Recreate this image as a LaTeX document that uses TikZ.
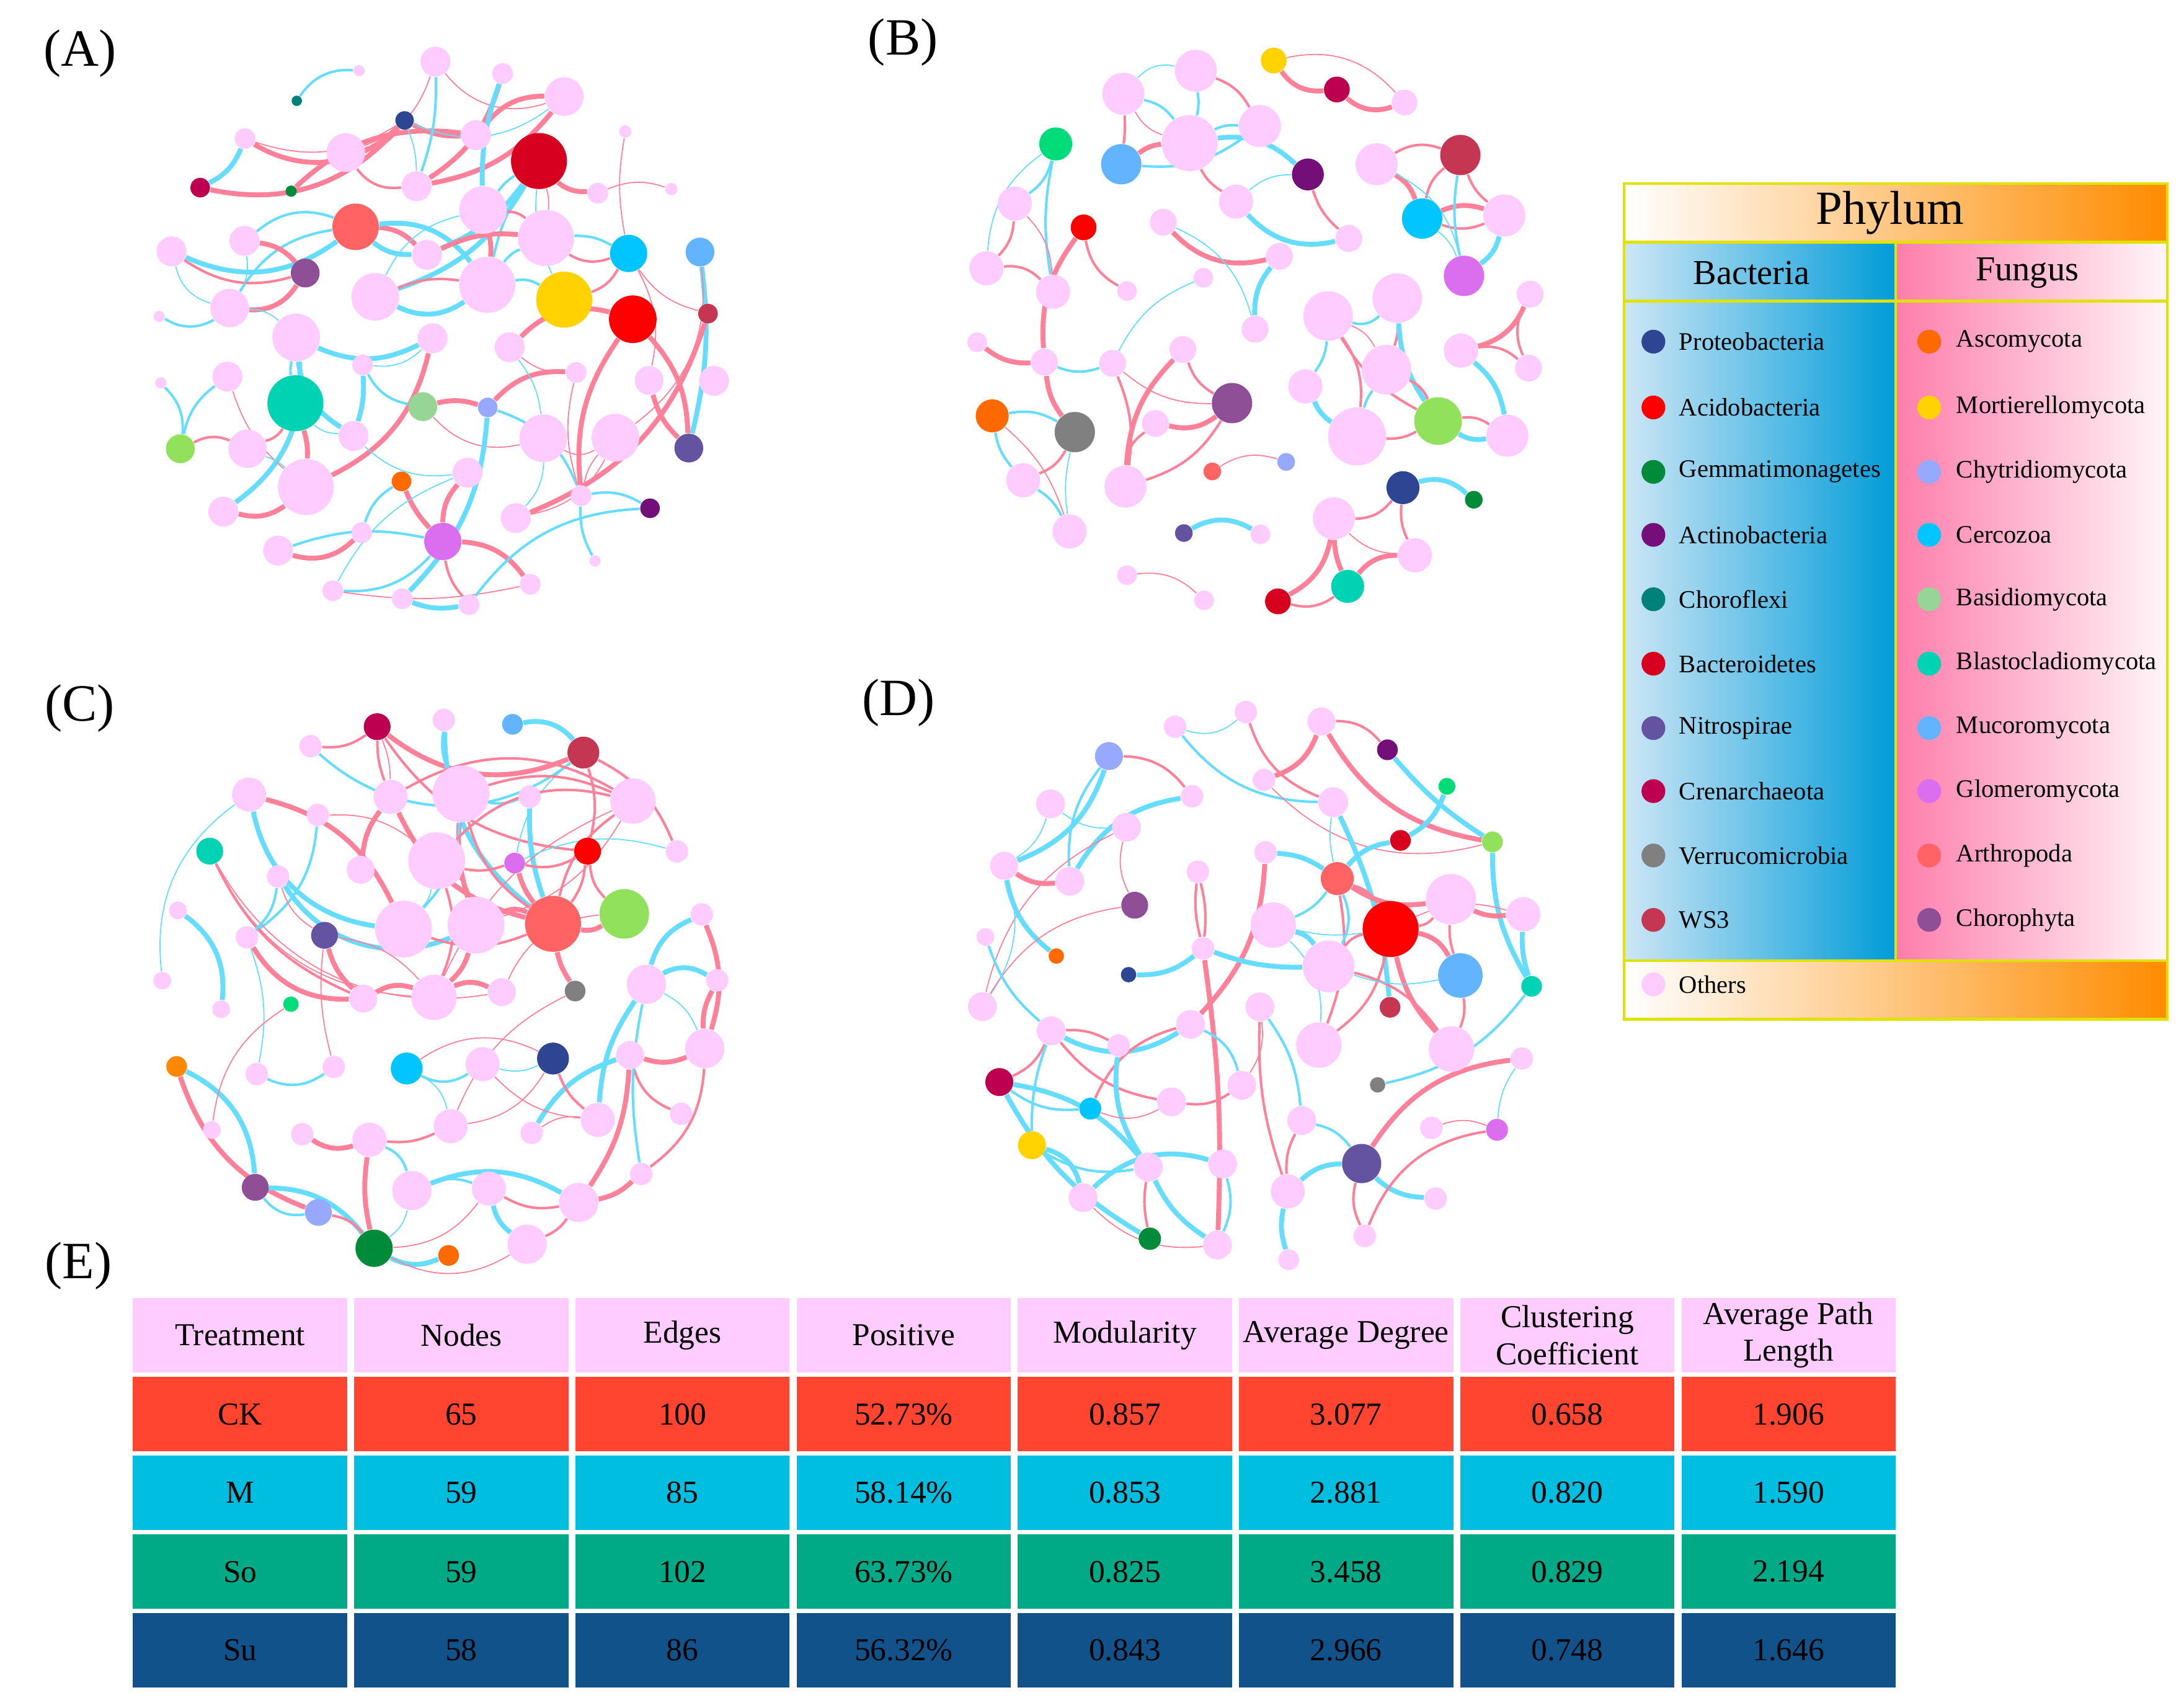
\documentclass[tikz,border=0pt]{standalone}
\usepackage{fontspec}
\setmainfont{Liberation Serif}
\usetikzlibrary{backgrounds}
\definecolor{cO}{HTML}{FFCCFF}
\definecolor{cPro}{HTML}{2E4593}
\definecolor{cAci}{HTML}{FF0000}
\definecolor{cGem}{HTML}{008B3A}
\definecolor{cAct}{HTML}{740F7A}
\definecolor{cChl}{HTML}{00807A}
\definecolor{cBac}{HTML}{D7001E}
\definecolor{cNit}{HTML}{6353A0}
\definecolor{cCre}{HTML}{BE0050}
\definecolor{cVer}{HTML}{808080}
\definecolor{cWS}{HTML}{C43652}
\definecolor{cAsc}{HTML}{FF6A00}
\definecolor{cAscB}{HTML}{FF8800}
\definecolor{cMor}{HTML}{FFD200}
\definecolor{cChy}{HTML}{97A8FF}
\definecolor{cCer}{HTML}{00C5FF}
\definecolor{cBas}{HTML}{97D597}
\definecolor{cBla}{HTML}{00D2B4}
\definecolor{cMuc}{HTML}{63B4FF}
\definecolor{cGlo}{HTML}{DA6EEE}
\definecolor{cArt}{HTML}{FF6363}
\definecolor{cCho}{HTML}{8E4F96}
\definecolor{cLime}{HTML}{92E15C}
\definecolor{cSpr}{HTML}{00DC78}
\definecolor{eP}{HTML}{FF8099}
\definecolor{eB}{HTML}{66DDFF}
\definecolor{legY}{HTML}{E2E200}
\definecolor{orR}{HTML}{FF8C00}
\definecolor{orM}{HTML}{FFC27A}
\definecolor{blL}{HTML}{CDE6F6}
\definecolor{blM}{HTML}{10B6E6}
\definecolor{blR}{HTML}{009CD8}
\definecolor{fuL}{HTML}{FF7DAB}
\definecolor{fuM}{HTML}{FFBCD3}
\definecolor{fuR}{HTML}{FFF6F9}
\definecolor{tH}{HTML}{FFCCFF}
\definecolor{tCK}{HTML}{FF4530}
\definecolor{tM}{HTML}{00BEE0}
\definecolor{tSo}{HTML}{00AA87}
\definecolor{tSu}{HTML}{12528A}
\newcommand\mynode[5]{\node[circle,inner sep=0pt,minimum size=#4pt,fill=#5] (#1) at (#2,#3) {};}
\newcommand\lnk[4]{\draw[#3] (#1) to[bend left=#4] (#2);}
\tikzset{
 P1/.style={draw=eP,line width=0.4pt},
 P2/.style={draw=eP,line width=0.9pt},
 P3/.style={draw=eP,line width=1.75pt},
 B1/.style={draw=eB,line width=0.4pt},
 B2/.style={draw=eB,line width=0.9pt},
 B3/.style={draw=eB,line width=1.75pt},
 lab/.style={inner sep=0pt,font=\fontsize{18.7}{22}\selectfont},
 cell/.style={inner sep=0pt,minimum width=76.5pt,minimum height=26.5pt,align=center,font=\fontsize{11.4}{13.2}\selectfont},
 legtxt/.style={anchor=west,inner sep=0pt,font=\fontsize{9}{11}\selectfont},
 legdot/.style={circle,inner sep=0pt,minimum size=8.5pt},
}
\begin{document}
\begin{tikzpicture}[x=0.5pt,y=-0.5pt]
\useasboundingbox (0,0) rectangle (1560,1216);
% ---------- labels
\node[lab] (labA) at (57,38) {(A)};
\node[lab] (labB) at (645,30) {(B)};
\node[lab] (labC) at (57,506) {(C)};
\node[lab] (labD) at (642,502) {(D)};
\node[lab] (labE) at (56,904) {(E)};
% ---------- panel A
\mynode{a1}{311}{44}{10.7}{cO}
\mynode{a2}{256.5}{50.5}{4}{cO}
\mynode{a3}{212}{72}{3.7}{cChl}
\mynode{a4}{359}{52.5}{7.4}{cO}
\mynode{a5}{403}{69}{13.8}{cO}
\mynode{a6}{289}{86}{6.6}{cPro}
\mynode{a7}{175}{99}{7.4}{cO}
\mynode{a8}{247}{109}{13.8}{cO}
\mynode{a9}{340}{96.5}{10.7}{cO}
\mynode{a10}{385}{115}{20}{cBac}
\mynode{a11}{446.6}{94}{4.4}{cO}
\mynode{a12}{143}{134}{7}{cCre}
\mynode{a13}{208}{136.5}{4}{cGem}
\mynode{a14}{297.5}{133}{10.7}{cO}
\mynode{a15}{427}{138}{7.4}{cO}
\mynode{a16}{479.5}{135}{4.4}{cO}
\mynode{a17}{254}{162}{16.6}{cArt}
\mynode{a18}{345}{150}{17}{cO}
\mynode{a19}{390}{170}{20}{cO}
\mynode{a20}{449}{181}{13.3}{cCer}
\mynode{a21}{500}{180}{10.3}{cMuc}
\mynode{a22}{122.5}{179.5}{10.7}{cO}
\mynode{a23}{174.6}{172}{10.7}{cO}
\mynode{a24}{218}{195}{10.3}{cCho}
\mynode{a25}{305}{182}{10.7}{cO}
\mynode{a26}{268}{212}{17}{cO}
\mynode{a27}{348}{203.5}{20}{cO}
\mynode{a28}{403}{214}{20}{cMor}
\mynode{a29}{452}{228}{17}{cAci}
\mynode{a30}{505.7}{224}{7}{cWS}
\mynode{a31}{113.7}{226}{4}{cO}
\mynode{a32}{164}{220}{13.7}{cO}
\mynode{a33}{211.5}{241}{17}{cO}
\mynode{a34}{309}{241.6}{10.7}{cO}
\mynode{a35}{364}{248}{10.7}{cO}
\mynode{a36}{259}{260.6}{7.4}{cO}
\mynode{a37}{411.5}{266}{7.4}{cO}
\mynode{a38}{463.6}{271.7}{10.3}{cO}
\mynode{a39}{510}{272}{10.7}{cO}
\mynode{a40}{114.8}{273.4}{4}{cO}
\mynode{a41}{162.4}{269}{10.7}{cO}
\mynode{a42}{211}{288}{20}{cBla}
\mynode{a43}{302}{290.4}{10.3}{cBas}
\mynode{a44}{348.4}{291}{7}{cChy}
\mynode{a45}{128.8}{320.5}{10.3}{cLime}
\mynode{a46}{176.8}{320.5}{13.7}{cO}
\mynode{a47}{252.5}{311.4}{10.7}{cO}
\mynode{a48}{388}{313}{17}{cO}
\mynode{a49}{439.6}{312.6}{17}{cO}
\mynode{a50}{492}{320}{10.3}{cNit}
\mynode{a51}{218.5}{347.8}{20}{cO}
\mynode{a52}{286.8}{343.8}{7}{cAsc}
\mynode{a53}{334}{337.6}{10.7}{cO}
\mynode{a54}{159.5}{365.4}{10.7}{cO}
\mynode{a55}{368.4}{370}{10.7}{cO}
\mynode{a56}{415}{354}{7.4}{cO}
\mynode{a57}{464.3}{363}{7}{cAct}
\mynode{a58}{258.4}{380.4}{7.4}{cO}
\mynode{a59}{316.3}{386.7}{13.3}{cGlo}
\mynode{a60}{198.6}{393.2}{10.7}{cO}
\mynode{a61}{425}{400.6}{4}{cO}
\mynode{a62}{237.7}{421.9}{7.4}{cO}
\mynode{a63}{378.7}{417.3}{7.4}{cO}
\mynode{a64}{287.2}{427.6}{7.4}{cO}
\mynode{a65}{335}{431.8}{7.4}{cO}
% ---------- panel B
\mynode{b1}{909.8}{43.2}{9.2}{cMor}
\mynode{b2}{954.9}{63.9}{9.2}{cCre}
\mynode{b3}{1003.2}{73.2}{9.2}{cO}
\mynode{b4}{854.1}{50.5}{15}{cO}
\mynode{b5}{802.4}{67}{15}{cO}
\mynode{b6}{899.9}{90}{15}{cO}
\mynode{b7}{849.7}{102.2}{20}{cO}
\mynode{b8}{800.9}{117.3}{14.4}{cMuc}
\mynode{b9}{754.1}{102.8}{11.8}{cSpr}
\mynode{b10}{934.2}{124.6}{11.4}{cAct}
\mynode{b11}{983.3}{117.3}{15}{cO}
\mynode{b12}{1043.1}{110.7}{14.4}{cWS}
\mynode{b13}{724.9}{145.4}{12.2}{cO}
\mynode{b14}{774}{162.4}{9.2}{cAci}
\mynode{b15}{882.9}{144}{12.2}{cO}
\mynode{b16}{1015.8}{156.1}{14.4}{cCer}
\mynode{b17}{1074.5}{153.9}{15}{cO}
\mynode{b18}{830.9}{158.7}{9.6}{cO}
\mynode{b19}{963.4}{170.3}{9.6}{cO}
\mynode{b20}{704.6}{191.6}{12.2}{cO}
\mynode{b21}{752.2}{208.4}{12.2}{cO}
\mynode{b22}{805}{207.8}{7}{cO}
\mynode{b23}{913.9}{183.1}{9.6}{cO}
\mynode{b24}{859.6}{198.4}{7}{cO}
\mynode{b25}{1045.7}{197}{14.4}{cGlo}
\mynode{b26}{1092.9}{210.1}{9.6}{cO}
\mynode{b27}{948.6}{225.7}{17.7}{cO}
\mynode{b28}{998}{212.9}{17.7}{cO}
\mynode{b29}{896.5}{235.1}{9.6}{cO}
\mynode{b30}{698}{244.4}{7}{cO}
\mynode{b31}{746}{258.6}{9.6}{cO}
\mynode{b32}{794.7}{259.5}{9.6}{cO}
\mynode{b33}{844.9}{249.6}{9.6}{cO}
\mynode{b34}{1043.5}{250.4}{12.2}{cO}
\mynode{b35}{1091.8}{262.9}{9.6}{cO}
\mynode{b36}{990.3}{264}{17.7}{cO}
\mynode{b37}{932.4}{276}{12.2}{cO}
\mynode{b38}{708.7}{297}{11.8}{cAsc}
\mynode{b39}{767.7}{308.6}{14.4}{cVer}
\mynode{b40}{825.3}{302.4}{9.6}{cO}
\mynode{b41}{880}{287.9}{14.4}{cCho}
\mynode{b42}{969.3}{311.7}{20.7}{cO}
\mynode{b43}{1027.2}{300.7}{17}{cLime}
\mynode{b44}{1076.7}{311.2}{15}{cO}
\mynode{b45}{730.8}{343}{12.2}{cO}
\mynode{b46}{803.9}{347.5}{15}{cO}
\mynode{b47}{865.9}{336.7}{6.3}{cArt}
\mynode{b48}{918.7}{329.9}{6.3}{cChy}
\mynode{b49}{1002.1}{348.3}{11.8}{cPro}
\mynode{b50}{1052.7}{356.9}{6.3}{cGem}
\mynode{b51}{952.7}{370.2}{15}{cO}
\mynode{b52}{764}{379.6}{12.2}{cO}
\mynode{b53}{845.6}{380.7}{6.3}{cNit}
\mynode{b54}{900.3}{381.6}{7}{cO}
\mynode{b55}{1010.6}{396.6}{12.2}{cO}
\mynode{b56}{805}{410.8}{7}{cO}
\mynode{b57}{962.6}{418.8}{11.8}{cBla}
\mynode{b58}{860}{428.7}{7}{cO}
\mynode{b59}{912.8}{429.5}{9.2}{cBac}
% ---------- panel C
\begin{scope}[shift={(0,2.5)}]
\mynode{c1}{221.8}{530.4}{8}{cO}
\mynode{c2}{269.4}{516.5}{9.6}{cCre}
\mynode{c3}{317}{511.7}{8}{cO}
\mynode{c4}{366.1}{514.8}{7.4}{cMuc}
\mynode{c5}{416.7}{535}{11.4}{cWS}
\mynode{c6}{177.9}{565}{12.2}{cO}
\mynode{c7}{279}{566.7}{12.2}{cO}
\mynode{c8}{329.2}{564.5}{20.3}{cO}
\mynode{c9}{378.3}{566.5}{8}{cO}
\mynode{c10}{452.1}{569.6}{16.2}{cO}
\mynode{c11}{227}{579.5}{8}{cO}
\mynode{c12}{149.8}{605.4}{9.6}{cBla}
\mynode{c13}{257.6}{618.7}{10}{cO}
\mynode{c14}{198.6}{623.5}{8}{cO}
\mynode{c15}{311.9}{612.2}{20.3}{cO}
\mynode{c16}{367.6}{613.9}{7.4}{cGlo}
\mynode{c17}{419.7}{605.4}{9.6}{cAci}
\mynode{c18}{483.5}{605.6}{8}{cO}
\mynode{c19}{127}{647.7}{6.3}{cO}
\mynode{c20}{176.4}{667}{8}{cO}
\mynode{c21}{231.8}{665.5}{9.6}{cNit}
\mynode{c22}{288.3}{661}{20.3}{cO}
\mynode{c23}{340}{658.2}{20.3}{cO}
\mynode{c24}{395}{657.3}{20}{cArt}
\mynode{c25}{445.9}{650.2}{17.7}{cLime}
\mynode{c26}{501.2}{650.5}{8}{cO}
\mynode{c27}{115.9}{697.9}{6.3}{cO}
\mynode{c28}{158}{718.3}{6.3}{cO}
\mynode{c29}{207.8}{714.7}{5.5}{cSpr}
\mynode{c30}{259.5}{710.7}{10}{cO}
\mynode{c31}{310}{709.8}{16.2}{cO}
\mynode{c32}{358.4}{706.1}{10}{cO}
\mynode{c33}{410.8}{705.3}{7.4}{cVer}
\mynode{c34}{461.7}{700.5}{14}{cO}
\mynode{c35}{512.3}{697.6}{8}{cO}
\mynode{c36}{126.2}{759.2}{7.4}{cAscB}
\mynode{c37}{183.4}{764.6}{8}{cO}
\mynode{c38}{238.4}{759.5}{8}{cO}
\mynode{c39}{290.5}{760.6}{11.4}{cCer}
\mynode{c40}{344.7}{757.5}{12.2}{cO}
\mynode{c41}{395}{753.5}{11.4}{cPro}
\mynode{c42}{503.4}{746.4}{14}{cO}
\mynode{c43}{450}{751}{10}{cO}
\mynode{c44}{151.3}{804.6}{6.3}{cO}
\mynode{c45}{215.9}{807.5}{8}{cO}
\mynode{c46}{263.9}{811.5}{12.2}{cO}
\mynode{c47}{321.9}{801.8}{12.2}{cO}
\mynode{c48}{379.8}{806.6}{8}{cO}
\mynode{c49}{427}{797.3}{12.2}{cO}
\mynode{c50}{486.5}{793}{8}{cO}
\mynode{c51}{182.3}{845.5}{9.6}{cCho}
\mynode{c52}{227.4}{863.4}{9.6}{cChy}
\mynode{c53}{294.2}{847.8}{14}{cO}
\mynode{c54}{349.2}{846.4}{12.2}{cO}
\mynode{c55}{413.4}{856.3}{14}{cO}
\mynode{c56}{458}{835.9}{8}{cO}
\mynode{c57}{267.2}{889}{13.3}{cGem}
\mynode{c58}{320.4}{894.1}{7.4}{cAsc}
\mynode{c59}{376.5}{886.1}{14}{cO}
% ---------- panel D
\mynode{d1}{839.3}{516.5}{8}{cO}
\mynode{d2}{889.9}{506}{8}{cO}
\mynode{d3}{943.8}{512.8}{10}{cO}
\mynode{d4}{991}{533}{7.4}{cAct}
\mynode{d5}{792.1}{537.5}{10}{cChy}
\mynode{d6}{902.8}{554.5}{8}{cO}
\mynode{d7}{1033.5}{559.1}{6}{cSpr}
\mynode{d8}{952.3}{570.4}{10.7}{cO}
\mynode{d9}{851.5}{566.2}{8}{cO}
\mynode{d10}{750.4}{571.6}{10.3}{cO}
\mynode{d11}{804.6}{588.3}{10.3}{cO}
\mynode{d12}{1000.3}{597.7}{7.4}{cBac}
\mynode{d13}{1066}{598.8}{7.4}{cLime}
\mynode{d14}{717.2}{615.8}{10}{cO}
\mynode{d15}{764.1}{626.9}{10.3}{cO}
\mynode{d16}{855.6}{620.1}{8}{cO}
\mynode{d17}{903.9}{606.2}{8}{cO}
\mynode{d18}{955.2}{625}{11.8}{cArt}
\mynode{d19}{810.5}{644}{9.6}{cCho}
\mynode{d20}{1036.4}{639.7}{18}{cO}
\mynode{d21}{909.5}{658.2}{16.2}{cO}
\mynode{d22}{993.3}{661}{20}{cAci}
\mynode{d23}{1088.1}{650.5}{12.2}{cO}
\mynode{d24}{703.9}{666.7}{6.3}{cO}
\mynode{d25}{754.5}{680.3}{5.5}{cAsc}
\mynode{d26}{859.3}{674.9}{8}{cO}
\mynode{d27}{806.1}{693.6}{5.5}{cPro}
\mynode{d28}{949}{687.7}{18.5}{cO}
\mynode{d29}{1043.1}{694.2}{15.9}{cMuc}
\mynode{d30}{1094}{701.9}{7.4}{cBla}
\mynode{d31}{701.7}{716.4}{10.3}{cO}
\mynode{d32}{992.9}{716.9}{7.4}{cWS}
\mynode{d33}{899.9}{716.6}{10.3}{cO}
\mynode{d34}{750.8}{733.7}{10.3}{cO}
\mynode{d35}{850.4}{729.1}{10.3}{cO}
\mynode{d36}{942}{743.9}{16.2}{cO}
\mynode{d37}{1036.8}{746.7}{16.2}{cO}
\mynode{d38}{799.1}{744.2}{8}{cO}
\mynode{d39}{1087}{753.5}{8}{cO}
\mynode{d40}{713.8}{770.3}{10}{cCre}
\mynode{d41}{984}{772.3}{5.5}{cVer}
\mynode{d42}{887}{772.6}{10.3}{cO}
\mynode{d43}{836.8}{784.5}{10.3}{cO}
\mynode{d44}{778.8}{789.3}{7.8}{cCer}
\mynode{d45}{929.8}{797.8}{10.3}{cO}
\mynode{d46}{1022.4}{803}{8}{cO}
\mynode{d47}{1069.3}{804.4}{7.8}{cGlo}
\mynode{d48}{737.1}{815.4}{10}{cMor}
\mynode{d49}{972.6}{828.5}{14}{cNit}
\mynode{d50}{820.2}{831}{10.3}{cO}
\mynode{d51}{873.3}{828.8}{10.3}{cO}
\mynode{d52}{919.8}{848.4}{12.2}{cO}
\mynode{d53}{773.6}{852.9}{10.3}{cO}
\mynode{d54}{1025.4}{853.5}{8}{cO}
\mynode{d55}{821.3}{882.2}{8}{cGem}
\mynode{d56}{974.8}{880.2}{8}{cO}
\mynode{d57}{869.6}{886.7}{10.3}{cO}
\mynode{d58}{920.5}{897.2}{7.4}{cO}
\end{scope}
% ---------- edges
\begin{pgfonlayer}{background}
% A
\lnk{a3}{a2}{B2}{30}
\lnk{a12}{a7}{B3}{-20}
\lnk{a12}{a6}{P3}{-30}
\lnk{a7}{a6}{P1}{-25}
\lnk{a7}{a6}{P3}{-38}
\lnk{a13}{a9}{P3}{25}
\lnk{a8}{a6}{P3}{-20}
\lnk{a6}{a9}{P3}{-15}
\lnk{a9}{a5}{P3}{25}
\lnk{a5}{a14}{P3}{20}
\lnk{a8}{a14}{P2}{-30}
\lnk{a6}{a14}{B1}{10}
\lnk{a1}{a14}{B2}{10}
\lnk{a1}{a5}{P1}{-35}
\lnk{a8}{a1}{P1}{-25}
\lnk{a4}{a14}{P3}{20}
\lnk{a4}{a18}{B3}{-10}
\lnk{a6}{a5}{B1}{-30}
\lnk{a10}{a19}{P1}{10}
\lnk{a10}{a18}{B2}{-10}
\lnk{a10}{a15}{P3}{-20}
\lnk{a10}{a28}{B1}{-15}
\lnk{a10}{a26}{B3}{20}
\lnk{a10}{a25}{B3}{15}
\lnk{a10}{a27}{B2}{-10}
\lnk{a17}{a22}{B3}{30}
\lnk{a17}{a23}{B2}{-30}
\lnk{a17}{a32}{B2}{-25}
\lnk{a17}{a25}{P3}{20}
\lnk{a17}{a25}{B3}{-20}
\lnk{a17}{a27}{B3}{30}
\lnk{a22}{a24}{P2}{-25}
\lnk{a23}{a24}{P3}{20}
\lnk{a32}{a24}{P3}{-30}
\lnk{a22}{a32}{B1}{-30}
\lnk{a23}{a32}{B1}{20}
\lnk{a25}{a19}{P3}{15}
\lnk{a19}{a20}{P2}{-25}
\lnk{a19}{a20}{B2}{15}
\lnk{a20}{a28}{P2}{20}
\lnk{a18}{a26}{B1}{-25}
\lnk{a18}{a27}{P3}{10}
\lnk{a19}{a27}{B2}{-15}
\lnk{a26}{a27}{B3}{-30}
\lnk{a26}{a27}{P2}{15}
\lnk{a27}{a28}{B2}{20}
\lnk{a18}{a19}{P2}{20}
\lnk{a20}{a38}{P1}{20}
\lnk{a20}{a30}{P1}{-20}
\lnk{a21}{a50}{B3}{10}
\lnk{a21}{a49}{P1}{30}
\lnk{a29}{a35}{P3}{-30}
\lnk{a30}{a55}{P3}{25}
\lnk{a29}{a56}{P3}{-20}
\lnk{a29}{a50}{P3}{20}
\lnk{a38}{a50}{P3}{-15}
\lnk{a31}{a32}{B2}{-30}
\lnk{a32}{a33}{B1}{20}
\lnk{a33}{a34}{B3}{-25}
\lnk{a33}{a42}{B2}{-10}
\lnk{a33}{a47}{B3}{-25}
\lnk{a33}{a54}{B3}{30}
\lnk{a34}{a36}{B1}{25}
\lnk{a34}{a51}{P3}{25}
\lnk{a36}{a43}{B2}{-25}
\lnk{a40}{a45}{B2}{25}
\lnk{a41}{a45}{B2}{-20}
\lnk{a45}{a46}{P2}{25}
\lnk{a41}{a51}{P1}{-15}
\lnk{a42}{a51}{P3}{10}
\lnk{a42}{a46}{P2}{20}
\lnk{a42}{a47}{B1}{-20}
\lnk{a43}{a44}{P3}{15}
\lnk{a43}{a48}{P1}{-30}
\lnk{a44}{a37}{P3}{25}
\lnk{a44}{a64}{B3}{20}
\lnk{a44}{a56}{B2}{25}
\lnk{a35}{a37}{P1}{-20}
\lnk{a37}{a56}{P1}{-15}
\lnk{a35}{a48}{B1}{15}
\lnk{a48}{a49}{P1}{-30}
\lnk{a48}{a55}{B1}{20}
\lnk{a49}{a56}{P1}{-15}
\lnk{a52}{a59}{P3}{-10}
\lnk{a52}{a58}{B2}{-20}
\lnk{a53}{a59}{P3}{-20}
\lnk{a53}{a47}{B1}{25}
\lnk{a54}{a51}{P3}{-25}
\lnk{a60}{a58}{P3}{-30}
\lnk{a60}{a59}{B2}{15}
\lnk{a53}{a62}{B1}{-20}
\lnk{a59}{a63}{P3}{25}
\lnk{a59}{a65}{P2}{-15}
\lnk{a62}{a59}{B2}{-25}
\lnk{a62}{a63}{P1}{-10}
\lnk{a64}{a65}{B3}{-15}
\lnk{a65}{a57}{B2}{25}
\lnk{a56}{a61}{B2}{-15}
\lnk{a56}{a57}{B2}{20}
\lnk{a11}{a20}{P1}{-10}
\lnk{a15}{a16}{P1}{20}
\lnk{a55}{a49}{P1}{-25}
\lnk{a46}{a51}{B1}{10}
\lnk{a47}{a36}{B3}{-10}
% B
\lnk{b1}{b2}{P3}{-30}
\lnk{b1}{b3}{P1}{30}
\lnk{b2}{b3}{P3}{-30}
\lnk{b4}{b5}{B1}{-30}
\lnk{b4}{b7}{B2}{10}
\lnk{b4}{b6}{P2}{20}
\lnk{b5}{b7}{B2}{20}
\lnk{b5}{b8}{P2}{5}
\lnk{b5}{b7}{P1}{-20}
\lnk{b7}{b8}{P3}{-15}
\lnk{b7}{b6}{B2}{15}
\lnk{b8}{b6}{B2}{-20}
\lnk{b7}{b10}{B3}{25}
\lnk{b7}{b15}{P2}{-15}
\lnk{b15}{b10}{B1}{20}
\lnk{b15}{b19}{B3}{-30}
\lnk{b10}{b19}{P2}{-15}
\lnk{b11}{b12}{P2}{25}
\lnk{b11}{b16}{P3}{20}
\lnk{b12}{b16}{P2}{-20}
\lnk{b12}{b17}{P2}{-15}
\lnk{b16}{b17}{P3}{20}
\lnk{b16}{b17}{P2}{-20}
\lnk{b12}{b25}{B2}{-10}
\lnk{b17}{b25}{B3}{20}
\lnk{b11}{b25}{B1}{25}
\lnk{b16}{b25}{B1}{15}
\lnk{b9}{b13}{B2}{20}
\lnk{b9}{b21}{B2}{-10}
\lnk{b9}{b20}{B1}{-25}
\lnk{b13}{b20}{P2}{20}
\lnk{b13}{b21}{P1}{20}
\lnk{b20}{b21}{P2}{25}
\lnk{b14}{b22}{P2}{-25}
\lnk{b14}{b31}{P3}{-20}
\lnk{b18}{b23}{P3}{-30}
\lnk{b18}{b29}{B1}{25}
\lnk{b23}{b29}{B3}{-20}
\lnk{b24}{b32}{B1}{-20}
\lnk{b31}{b32}{B2}{-20}
\lnk{b30}{b31}{P3}{-20}
\lnk{b31}{b39}{P3}{-15}
\lnk{b32}{b46}{P2}{15}
\lnk{b32}{b41}{P1}{-20}
\lnk{b33}{b41}{P2}{-20}
\lnk{b33}{b46}{P3}{-20}
\lnk{b40}{b41}{P3}{-25}
\lnk{b40}{b46}{P2}{-25}
\lnk{b41}{b46}{P2}{20}
\lnk{b38}{b39}{B2}{20}
\lnk{b38}{b45}{B2}{-15}
\lnk{b38}{b52}{P1}{15}
\lnk{b39}{b45}{P2}{20}
\lnk{b39}{b52}{B1}{-10}
\lnk{b45}{b52}{B2}{15}
\lnk{b27}{b28}{B2}{-30}
\lnk{b27}{b36}{P1}{20}
\lnk{b27}{b37}{B2}{15}
\lnk{b27}{b42}{P2}{20}
\lnk{b27}{b43}{P2}{-15}
\lnk{b28}{b36}{P2}{10}
\lnk{b28}{b43}{B3}{-15}
\lnk{b36}{b43}{P2}{20}
\lnk{b37}{b42}{B3}{-15}
\lnk{b36}{b42}{B2}{-10}
\lnk{b42}{b43}{P2}{-15}
\lnk{b43}{b44}{B3}{-20}
\lnk{b43}{b44}{P2}{20}
\lnk{b34}{b26}{P3}{-25}
\lnk{b26}{b35}{P2}{-25}
\lnk{b34}{b35}{P2}{25}
\lnk{b34}{b44}{B3}{20}
\lnk{b47}{b48}{P1}{25}
\lnk{b53}{b54}{B3}{30}
\lnk{b56}{b58}{P1}{25}
\lnk{b49}{b50}{B3}{30}
\lnk{b49}{b51}{P2}{25}
\lnk{b49}{b55}{P2}{-15}
\lnk{b51}{b55}{P1}{-20}
\lnk{b51}{b59}{P3}{25}
\lnk{b51}{b57}{P3}{-10}
\lnk{b57}{b59}{P2}{25}
\lnk{b57}{b55}{P3}{25}
% C
\lnk{c1}{c2}{P2}{-20}
\lnk{c1}{c5}{B2}{-40}
\lnk{c2}{c5}{P3}{-30}
\lnk{c2}{c17}{P2}{-25}
\lnk{c2}{c7}{P2}{-10}
\lnk{c2}{c7}{P1}{10}
\lnk{c3}{c8}{B2}{-15}
\lnk{c3}{c24}{B3}{-25}
\lnk{c4}{c5}{B3}{30}
\lnk{c5}{c17}{P2}{15}
\lnk{c5}{c18}{P2}{20}
\lnk{c5}{c16}{B1}{-20}
\lnk{c6}{c22}{B3}{-35}
\lnk{c6}{c22}{P3}{25}
\lnk{c6}{c27}{B1}{-30}
\lnk{c7}{c13}{P3}{-15}
\lnk{c7}{c24}{P3}{-25}
\lnk{c7}{c10}{P2}{30}
\lnk{c8}{c9}{B2}{-15}
\lnk{c8}{c23}{P3}{-10}
\lnk{c8}{c24}{P2}{-20}
\lnk{c8}{c22}{B2}{20}
\lnk{c8}{c10}{P2}{20}
\lnk{c9}{c24}{B3}{-10}
\lnk{c10}{c15}{P2}{-30}
\lnk{c10}{c23}{P1}{20}
\lnk{c10}{c24}{P2}{-20}
\lnk{c10}{c31}{P1}{-20}
\lnk{c11}{c15}{P1}{20}
\lnk{c11}{c20}{B2}{25}
\lnk{c12}{c30}{P2}{-20}
\lnk{c12}{c31}{P1}{-30}
\lnk{c12}{c32}{P1}{-35}
\lnk{c14}{c20}{B2}{20}
\lnk{c14}{c23}{B3}{-40}
\lnk{c14}{c21}{P1}{-20}
\lnk{c15}{c16}{P2}{-15}
\lnk{c15}{c22}{B1}{15}
\lnk{c15}{c23}{P1}{20}
\lnk{c15}{c31}{P2}{20}
\lnk{c16}{c17}{P2}{-20}
\lnk{c16}{c18}{B1}{20}
\lnk{c16}{c24}{P3}{-10}
\lnk{c17}{c24}{P2}{15}
\lnk{c17}{c25}{P2}{-20}
\lnk{c19}{c28}{B3}{30}
\lnk{c20}{c30}{P3}{-30}
\lnk{c20}{c37}{B1}{15}
\lnk{c21}{c30}{P3}{-15}
\lnk{c21}{c31}{P1}{20}
\lnk{c21}{c38}{P1}{-10}
\lnk{c22}{c24}{P2}{-20}
\lnk{c23}{c24}{P3}{25}
\lnk{c24}{c25}{P3}{-20}
\lnk{c24}{c33}{P3}{-10}
\lnk{c23}{c31}{P3}{15}
\lnk{c30}{c31}{P3}{25}
\lnk{c31}{c32}{P3}{25}
\lnk{c32}{c25}{P1}{30}
\lnk{c33}{c47}{P1}{-20}
\lnk{c34}{c26}{B3}{25}
\lnk{c34}{c35}{B3}{30}
\lnk{c34}{c42}{B1}{20}
\lnk{c34}{c49}{B3}{-15}
\lnk{c35}{c42}{P3}{-15}
\lnk{c26}{c42}{P3}{20}
\lnk{c42}{c43}{P3}{20}
\lnk{c43}{c48}{B3}{-20}
\lnk{c43}{c55}{P3}{15}
\lnk{c43}{c50}{P2}{-25}
\lnk{c42}{c56}{P2}{25}
\lnk{c56}{c55}{P3}{15}
\lnk{c34}{c56}{B2}{-10}
\lnk{c36}{c51}{B3}{30}
\lnk{c36}{c52}{P3}{-25}
\lnk{c37}{c38}{B2}{-30}
\lnk{c29}{c44}{P1}{-25}
\lnk{c39}{c40}{B2}{-30}
\lnk{c39}{c41}{P1}{30}
\lnk{c39}{c47}{B1}{25}
\lnk{c40}{c41}{B1}{-20}
\lnk{c40}{c49}{P1}{-20}
\lnk{c41}{c47}{P1}{25}
\lnk{c41}{c49}{P2}{-15}
\lnk{c45}{c46}{P3}{-25}
\lnk{c46}{c47}{P2}{-15}
\lnk{c46}{c53}{B2}{25}
\lnk{c46}{c57}{P3}{-10}
\lnk{c51}{c52}{B2}{-30}
\lnk{c51}{c57}{B3}{25}
\lnk{c52}{c57}{P2}{20}
\lnk{c57}{c58}{B3}{-25}
\lnk{c57}{c53}{B1}{-20}
\lnk{c57}{c54}{P1}{-25}
\lnk{c57}{c59}{P1}{-30}
\lnk{c53}{c54}{B2}{20}
\lnk{c53}{c55}{B3}{25}
\lnk{c54}{c55}{P2}{-20}
\lnk{c54}{c59}{B3}{-20}
\lnk{c59}{c55}{P2}{-15}
\lnk{c48}{c49}{P1}{20}
% D
\lnk{d1}{d2}{B1}{-30}
\lnk{d1}{d8}{B2}{-25}
\lnk{d2}{d8}{P2}{-25}
\lnk{d3}{d4}{P2}{25}
\lnk{d3}{d6}{P3}{25}
\lnk{d3}{d13}{P3}{-25}
\lnk{d4}{d13}{B3}{-8}
\lnk{d13}{d30}{B3}{-15}
\lnk{d7}{d12}{B3}{20}
\lnk{d6}{d13}{P1}{-30}
\lnk{d5}{d14}{B3}{25}
\lnk{d5}{d9}{P2}{25}
\lnk{d5}{d15}{B2}{-20}
\lnk{d9}{d15}{B3}{-25}
\lnk{d10}{d11}{B1}{-20}
\lnk{d10}{d14}{B1}{20}
\lnk{d11}{d31}{P1}{-25}
\lnk{d11}{d19}{P1}{-20}
\lnk{d14}{d15}{P3}{-20}
\lnk{d14}{d25}{B3}{-20}
\lnk{d14}{d31}{B1}{25}
\lnk{d19}{d31}{P1}{-25}
\lnk{d24}{d34}{B2}{-15}
\lnk{d12}{d18}{B3}{-20}
\lnk{d17}{d18}{B3}{15}
\lnk{d17}{d35}{P3}{20}
\lnk{d8}{d32}{B3}{10}
\lnk{d8}{d18}{B1}{-10}
\lnk{d16}{d26}{P2}{10}
\lnk{d16}{d26}{P2}{-10}
\lnk{d26}{d27}{B3}{20}
\lnk{d26}{d28}{B3}{-10}
\lnk{d26}{d57}{P3}{5}
\lnk{d18}{d20}{P3}{-20}
\lnk{d18}{d21}{B2}{15}
\lnk{d18}{d22}{P2}{20}
\lnk{d18}{d36}{P2}{15}
\lnk{d18}{d28}{B2}{25}
\lnk{d20}{d23}{P3}{-15}
\lnk{d20}{d22}{P2}{20}
\lnk{d22}{d28}{P2}{-20}
\lnk{d22}{d29}{P3}{25}
\lnk{d22}{d36}{P2}{20}
\lnk{d22}{d37}{P3}{-15}
\lnk{d20}{d29}{P2}{-10}
\lnk{d21}{d28}{B3}{20}
\lnk{d21}{d22}{B1}{-10}
\lnk{d21}{d36}{B1}{25}
\lnk{d28}{d37}{P2}{20}
\lnk{d28}{d29}{B1}{-15}
\lnk{d23}{d30}{B3}{-10}
\lnk{d23}{d22}{P1}{-20}
\lnk{d29}{d37}{P2}{15}
\lnk{d30}{d41}{B2}{20}
\lnk{d33}{d45}{B2}{15}
\lnk{d33}{d52}{P2}{-10}
\lnk{d34}{d35}{B3}{-30}
\lnk{d34}{d38}{P2}{15}
\lnk{d34}{d40}{P2}{20}
\lnk{d34}{d43}{P2}{-20}
\lnk{d34}{d48}{B2}{-10}
\lnk{d35}{d42}{B2}{25}
\lnk{d35}{d44}{P2}{-25}
\lnk{d38}{d50}{B3}{-20}
\lnk{d42}{d43}{P2}{20}
\lnk{d43}{d44}{P1}{25}
\lnk{d40}{d44}{B2}{-20}
\lnk{d40}{d50}{B3}{20}
\lnk{d40}{d55}{B3}{-15}
\lnk{d48}{d53}{B3}{30}
\lnk{d48}{d50}{B2}{-20}
\lnk{d53}{d51}{B3}{30}
\lnk{d50}{d55}{P2}{-10}
\lnk{d50}{d57}{B3}{-15}
\lnk{d51}{d57}{B2}{20}
\lnk{d53}{d57}{P1}{-25}
\lnk{d45}{d49}{B2}{20}
\lnk{d45}{d52}{P2}{-15}
\lnk{d49}{d52}{B3}{-20}
\lnk{d49}{d54}{B3}{-20}
\lnk{d49}{d39}{P3}{25}
\lnk{d49}{d56}{P2}{-20}
\lnk{d46}{d47}{P1}{20}
\lnk{d47}{d56}{P2}{-30}
\lnk{d39}{d47}{B1}{-15}
\lnk{d52}{d58}{B3}{-15}
\lnk{d33}{d42}{P1}{20}
\end{pgfonlayer}
% ---------- legend
\shade[left color=white,middle color=orM,right color=orR] (1160,131) rectangle (1548,173);
\shade[left color=blL,middle color=blM,right color=blR] (1160,173) rectangle (1354,686);
\shade[left color=fuL,middle color=fuM,right color=fuR] (1354,173) rectangle (1548,686);
\shade[left color=white,middle color=orM,right color=orR] (1160,686) rectangle (1548,728);
\draw[legY,line width=1pt] (1160,131) rectangle (1548,728);
\draw[legY,line width=1pt] (1160,173) -- (1548,173) (1160,215) -- (1548,215) (1160,686) -- (1548,686) (1354,173) -- (1354,686);
\node[inner sep=0pt,font=\fontsize{17}{20}\selectfont] (lgT) at (1350,152) {Phylum};
\node[inner sep=0pt,font=\fontsize{12.5}{15}\selectfont] (lgB) at (1251,195) {Bacteria};
\node[inner sep=0pt,font=\fontsize{12.5}{15}\selectfont] (lgF) at (1448,195) {Fungus};
\foreach \i/\y/\c/\t in {1/244/cPro/Proteobacteria,2/291/cAci/Acidobacteria,3/337/cGem/Gemmatimonagetes,4/382/cAct/Actinobacteria,5/428/cChl/Choroflexi,6/474/cBac/Bacteroidetes,7/520/cNit/Nitrospirae,8/565/cCre/Crenarchaeota,9/611/cVer/Verrucomicrobia,10/657/cWS/WS3}{
  \node[legdot,fill=\c] (lbd\i) at (1181,\y) {};
  \node[legtxt] (lbt\i) at (1199,\y) {\t};
}
\foreach \i/\y/\c/\t in {1/244/cAsc/Ascomycota,2/291/cMor/Mortierellomycota,3/337/cChy/Chytridiomycota,4/382/cCer/Cercozoa,5/428/cBas/Basidiomycota,6/474/cBla/Blastocladiomycota,7/520/cMuc/Mucoromycota,8/565/cGlo/Glomeromycota,9/611/cArt/Arthropoda,10/657/cCho/Chorophyta}{
  \node[legdot,fill=\c] (lfd\i) at (1378,\y) {};
  \node[legtxt] (lft\i) at (1397,\y) {\t};
}
\node[legdot,fill=cO] (lod) at (1181,703) {};
\node[legtxt] (lot) at (1199,703) {Others};
% ---------- table
\foreach \c/\t in {0/Treatment,1/Nodes,2/Edges,3/Positive,4/Modularity,5/Average Degree,6/{Clustering\\Coefficient},7/{Average Path\\Length}}
  \node[cell,fill=tH] (th\c) at ({171.5+158*\c},953.5) {\t};
\foreach \c/\t in {0/CK,1/65,2/100,3/{52.73\%},4/0.857,5/3.077,6/0.658,7/1.906}
  \node[cell,fill=tCK] (tck\c) at ({171.5+158*\c},1010) {\t};
\foreach \c/\t in {0/M,1/59,2/85,3/{58.14\%},4/0.853,5/2.881,6/0.820,7/1.590}
  \node[cell,fill=tM] (tm\c) at ({171.5+158*\c},1066) {\t};
\foreach \c/\t in {0/So,1/59,2/102,3/{63.73\%},4/0.825,5/3.458,6/0.829,7/2.194}
  \node[cell,fill=tSo] (tso\c) at ({171.5+158*\c},1122.5) {\t};
\foreach \c/\t in {0/Su,1/58,2/86,3/{56.32\%},4/0.843,5/2.966,6/0.748,7/1.646}
  \node[cell,fill=tSu] (tsu\c) at ({171.5+158*\c},1178.5) {\t};
\end{tikzpicture}
\end{document}
